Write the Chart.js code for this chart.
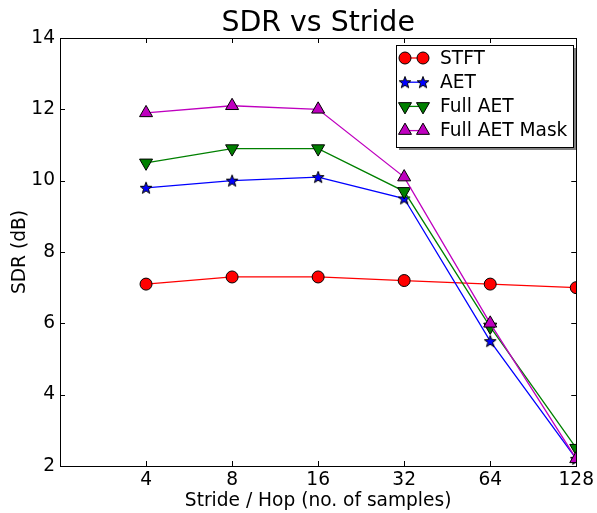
<!DOCTYPE html>
<html lang="en">
  <head>
    <meta charset="UTF-8" />
    <title>SDR vs Stride</title>
    <script src="https://cdn.jsdelivr.net/npm/chart.js@4.4.0/dist/chart.umd.min.js"></script>
    <style>
      html, body { margin: 0; padding: 0; background: #fff; }
      #wrap { width: 597px; height: 513px; }
    </style>
  </head>
  <body>
    <div id="wrap"><canvas id="myChart" width="597" height="513"></canvas></div>
    <script>
    // values
    const strides = [4, 8, 16, 32, 64, 128];
    const stft = [7.1, 7.3, 7.3, 7.2, 7.1, 7.0];
    const aet = [9.8, 10.0, 10.1, 9.5, 5.5, 2.2];
    const fullAet = [10.5, 10.9, 10.9, 9.7, 5.9, 2.5];
    const fullAetMask = [11.9, 12.1, 12.0, 10.1, 6.0, 2.2];
    const yTicks = [2, 4, 6, 8, 10, 12, 14];

    const FONT = 'DejaVu Sans';
    const FS = 18.6;

    // filled 5 point star, matplotlib style
    function makeStar(){
      const c = document.createElement('canvas');
      c.width = 16; c.height = 16;
      const g = c.getContext('2d');
      g.beginPath();
      for (let i = 0; i < 10; i++) {
        const r = i % 2 === 0 ? 6.2 : 2.6;
        const a = -Math.PI / 2 + i * Math.PI / 5;
        const px = 8 + r * Math.cos(a), py = 8.5 + r * Math.sin(a);
        if (i === 0) g.moveTo(px, py); else g.lineTo(px, py);
      }
      g.closePath();
      g.fillStyle = '#0000ff';
      g.fill();
      g.lineWidth = 1;
      g.strokeStyle = '#000';
      g.stroke();
      return c;
    }
    const star = makeStar();

    function pts(ys){
      return strides.map((x, i) => ({ x: x, y: ys[i] }));
    }

    function series(label, ys, color, style, rot, radius, order){
      return {
        label: label,
        data: pts(ys),
        borderColor: color,
        backgroundColor: color,
        borderWidth: 1.3,
        pointStyle: style,
        pointRotation: rot,
        pointRadius: radius,
        pointHoverRadius: radius,
        pointBorderColor: '#000',
        pointBorderWidth: 1,
        pointBackgroundColor: color,
        tension: 0,
        clip: 0,
        order: order
      };
    }

    const datasets = [
      series('STFT', stft, '#ff0000', 'circle', 0, 6, 4),
      series('AET', aet, '#0000ff', star, 0, 6, 3),
      series('Full AET', fullAet, '#008000', 'triangle', 180, 7.5, 2),
      series('Full AET Mask', fullAetMask, '#bf00bf', 'triangle', 0, 7.5, 1)
    ];

    // frame, inward ticks on all four sides, title and boxed legend
    const decor = {
      id: 'decor',
      afterDraw(chart){
        const ctx = chart.ctx;
        const a = chart.chartArea;
        const xs = chart.scales.x, ys = chart.scales.y;
        ctx.save();
        ctx.strokeStyle = '#000';
        ctx.lineWidth = 1;
        ctx.strokeRect(Math.round(a.left) + 0.5, Math.round(a.top) + 0.5,
          Math.round(a.right - a.left), Math.round(a.bottom - a.top));
        const tl = 5;
        ctx.beginPath();
        xs.ticks.forEach(t => {
          const px = Math.round(xs.getPixelForValue(t.value)) + 0.5;
          ctx.moveTo(px, a.bottom); ctx.lineTo(px, a.bottom - tl);
          ctx.moveTo(px, a.top); ctx.lineTo(px, a.top + tl);
        });
        ys.ticks.forEach(t => {
          const py = Math.round(ys.getPixelForValue(t.value)) + 0.5;
          ctx.moveTo(a.left, py); ctx.lineTo(a.left + tl, py);
          ctx.moveTo(a.right, py); ctx.lineTo(a.right - tl, py);
        });
        ctx.stroke();

        // title
        ctx.fillStyle = '#000';
        ctx.font = '28.4px "' + FONT + '"';
        ctx.textAlign = 'center';
        ctx.textBaseline = 'middle';
        ctx.fillText('SDR vs Stride', (a.left + a.right) / 2, 24);

        // legend
        const bx = 396, by = 45, bw = 177, bh = 102;
        ctx.fillStyle = '#808080';
        ctx.fillRect(bx + 3, by + 3, bw, bh);
        ctx.fillStyle = '#fff';
        ctx.fillRect(bx, by, bw, bh);
        ctx.strokeStyle = '#000';
        ctx.strokeRect(bx + 0.5, by + 0.5, bw, bh);
        chart.data.datasets.forEach((ds, i) => {
          const ry = 58 + i * 24.2;
          ctx.strokeStyle = ds.borderColor;
          ctx.lineWidth = 1.3;
          ctx.beginPath();
          ctx.moveTo(405, ry); ctx.lineTo(423, ry);
          ctx.stroke();
          [405, 423].forEach(mx => {
            ctx.fillStyle = ds.pointBackgroundColor;
            ctx.strokeStyle = '#000';
            ctx.lineWidth = 1;
            Chart.helpers.drawPoint(ctx, {
              pointStyle: ds.pointStyle, radius: ds.pointRadius,
              rotation: ds.pointRotation, borderWidth: 1
            }, mx, ry);
          });
          ctx.fillStyle = '#000';
          ctx.font = FS + 'px "' + FONT + '"';
          ctx.textAlign = 'left';
          ctx.textBaseline = 'middle';
          ctx.fillText(ds.label, 440, ry + 1);
        });
        ctx.restore();
      }
    };

    const ctx = document.getElementById('myChart').getContext('2d');
    const myChart = new Chart(ctx, {
      type: 'line',
      data: { datasets: datasets },
      plugins: [decor],
      options: {
        responsive: false,
        animation: false,
        events: [],
        layout: { padding: { top: 38, right: 19, bottom: 0, left: 0 } },
        plugins: { legend: { display: false }, title: { display: false }, tooltip: { enabled: false } },
        scales: {
          x: {
            type: 'logarithmic',
            min: 2,
            max: 128,
            afterBuildTicks: s => { s.ticks = strides.map(v => ({ value: v })); },
            afterFit: s => { s.height = 47; },
            grid: { display: false, drawTicks: false },
            border: { display: false },
            ticks: {
              color: '#000', padding: 3, maxRotation: 0, autoSkip: false,
              font: { family: FONT, size: FS },
              callback: v => String(v)
            },
            title: {
              display: true, text: 'Stride / Hop (no. of samples)', color: '#000',
              font: { family: FONT, size: FS }, padding: { top: 0, bottom: 1 }
            }
          },
          y: {
            min: 2,
            max: 14,
            afterBuildTicks: s => { s.ticks = yTicks.map(v => ({ value: v })); },
            afterFit: s => { s.width = 60; },
            grid: { display: false, drawTicks: false },
            border: { display: false },
            ticks: {
              color: '#000', padding: 5,
              font: { family: FONT, size: FS }
            },
            title: {
              display: true, text: 'SDR (dB)', color: '#000',
              font: { family: FONT, size: FS }, padding: { top: 9, bottom: 0 }
            }
          }
        }
      }
    });
    </script>
  </body>
</html>
